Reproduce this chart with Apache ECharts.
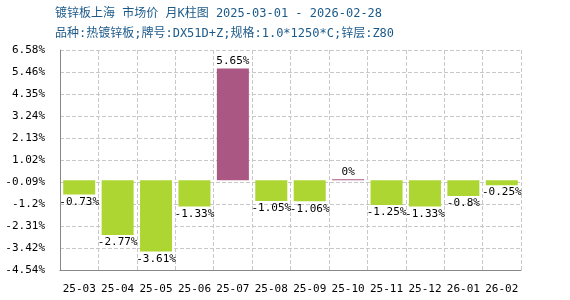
<!DOCTYPE html>
<html><head><meta charset="utf-8">
<script src="https://cdn.jsdelivr.net/npm/echarts@6/dist/echarts.min.js"></script>
<style>html,body{margin:0;padding:0;background:#fff}#c{width:570px;height:300px}</style>
</head><body><div id="c"></div>
<script>
var titleLine1 = '镀锌板上海 市场价 月K柱图 2025-03-01 - 2026-02-28';
var titleLine2 = '品种:热镀锌板;牌号:DX51D+Z;规格:1.0*1250*C;锌层:Z80';
var categories = ['25-03','25-04','25-05','25-06','25-07','25-08','25-09','25-10','25-11','25-12','26-01','26-02'];
var values = [-0.73,-2.77,-3.61,-1.33,5.65,-1.05,-1.06,0,-1.25,-1.33,-0.8,-0.25];
var yTickLabels = ['-4.54%','-3.42%','-2.31%','-1.2%','-0.09%','1.02%','2.13%','3.24%','4.35%','5.46%','6.58%'];
var yMin = -4.54, yMax = 6.58;
var yInterval = (yMax - yMin) / 10;

var mono = '"DejaVu Sans Mono","Liberation Mono",monospace';
var chart = echarts.init(document.getElementById('c'));
chart.setOption({
  animation: false,
  graphic: [
    {type:'text', left:55, top:8, style:{text:titleLine1, fill:'#1c5a8a', font:'12px "DejaVu Sans Mono","Noto Sans CJK SC",monospace'}},
    {type:'text', left:55, top:28, style:{text:titleLine2, fill:'#1c5a8a', font:'12px "DejaVu Sans Mono","Noto Sans CJK SC",monospace'}}
  ],
  grid: {left:60, right:49, top:50, bottom:30, containLabel:false},
  xAxis: {
    type:'category', data:categories, boundaryGap:true,
    axisLine:{show:true, onZero:false, lineStyle:{color:'#888'}},
    axisTick:{show:false},
    axisLabel:{color:'#000', fontFamily:mono, fontSize:11, margin:14, interval:0},
    splitLine:{show:true, interval:0, lineStyle:{color:'#c8c8c8', type:'dashed'}}
  },
  yAxis: {
    type:'value', min:yMin, max:yMax, interval:yInterval,
    axisLine:{show:true, lineStyle:{color:'#888'}},
    axisTick:{show:false},
    axisLabel:{color:'#000', fontFamily:mono, fontSize:11, margin:15,
      formatter:function(v){
        var idx = Math.round((v - yMin) / yInterval);
        return yTickLabels[idx] !== undefined ? yTickLabels[idx] : '';
      }},
    splitLine:{show:true, lineStyle:{color:'#c8c8c8', type:'dashed'}}
  },
  series: [{
    type:'bar', data:values.map(function(v){
      return {value:v, itemStyle:{color: v < 0 ? '#add633' : '#aa5784'},
        label:{position: v < 0 ? 'bottom' : 'top'}};
    }),
    barWidth:32,
    barMinHeight:1,
    label:{show:true, color:'#000', fontFamily:mono, fontSize:11, distance:2,
      formatter:function(p){ return p.value + '%'; }}
  }]
});
</script></body></html>
